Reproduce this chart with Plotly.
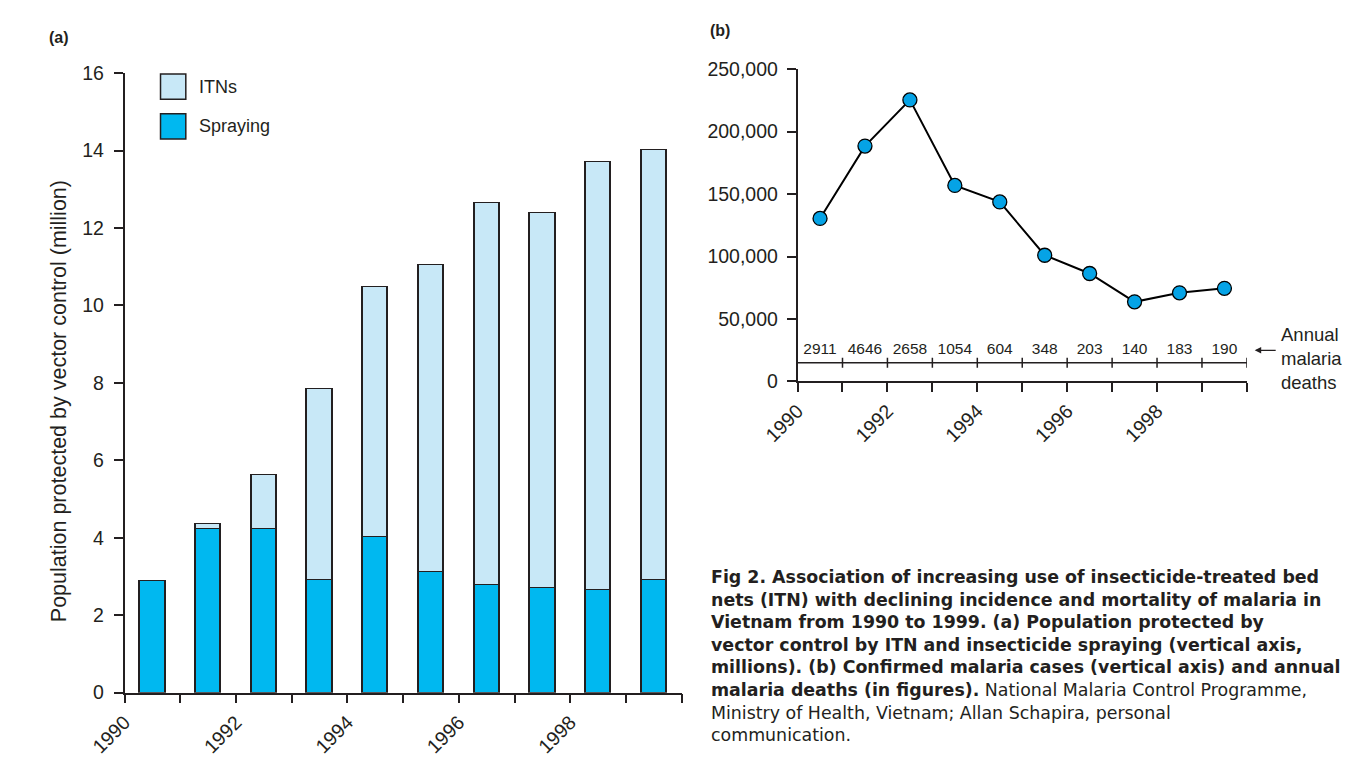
import plotly.graph_objects as go

# ---------------- data ----------------
years = [1990, 1991, 1992, 1993, 1994, 1995, 1996, 1997, 1998, 1999]
spraying = [2.87, 4.23, 4.23, 2.90, 4.02, 3.11, 2.78, 2.69, 2.64, 2.90]
itns = [0.0, 0.13, 1.38, 4.94, 6.45, 7.92, 9.86, 9.70, 11.07, 11.11]
cases = [130500, 188400, 225400, 156900, 143700, 101000, 86400, 63700, 70900, 74500]
deaths = [2911, 4646, 2658, 1054, 604, 348, 203, 140, 183, 190]
tick_years = [1990, 1991, 1992, 1993, 1994, 1995, 1996, 1997, 1998, 1999, 2000]
tick_text = ["1990", "", "1992", "", "1994", "", "1996", "", "1998", "", ""]
y_ticks_a = [0, 2, 4, 6, 8, 10, 12, 14, 16]
y_ticks_b = [0, 50000, 100000, 150000, 200000, 250000]
y_text_b = ["0", "50,000", "100,000", "150,000", "200,000", "250,000"]

caption_lines = [
    "<b>Fig 2. Association of increasing use of insecticide-treated bed</b>",
    "<b>nets (ITN) with declining incidence and mortality of malaria in</b>",
    "<b>Vietnam from 1990 to 1999. (a) Population protected by</b>",
    "<b>vector control by ITN and insecticide spraying (vertical axis,</b>",
    "<b>millions). (b) Confirmed malaria cases (vertical axis) and annual</b>",
    "<b>malaria deaths (in figures).</b> National Malaria Control Programme,",
    "Ministry of Health, Vietnam; Allan Schapira, personal",
    "communication.",
]

# ---------------- styling ----------------
W, H = 1350, 757
FONT = "Liberation Sans"
CAP_FONT = "DejaVu Sans"
INK = "#231f20"
C_SPRAY = "#00b8f0"
C_ITN = "#c8e8f7"
C_MARK = "#05a3e6"


def fx(px):
    return px / W


def fy(py):
    return 1 - py / H


mid = [y + 0.5 for y in years]

fig = go.Figure()

fig.add_trace(go.Bar(x=mid, y=spraying, width=0.455, name="Spraying",
                     marker=dict(color=C_SPRAY, line=dict(color=INK, width=1.5)),
                     xaxis="x", yaxis="y", showlegend=False))
fig.add_trace(go.Bar(x=mid, y=itns, width=0.455, name="ITNs",
                     marker=dict(color=C_ITN, line=dict(color=INK, width=1.5)),
                     xaxis="x", yaxis="y", showlegend=False))

fig.add_trace(go.Scatter(x=mid, y=cases, mode="lines+markers",
                         line=dict(color="black", width=2),
                         marker=dict(size=14, color=C_MARK, line=dict(color="black", width=1.3)),
                         xaxis="x2", yaxis="y2", showlegend=False))

STRIP_Y = 15000
TEXT_Y = 24800
fig.add_trace(go.Scatter(x=mid, y=[TEXT_Y] * len(mid), mode="text",
                         text=[str(d) for d in deaths], textposition="middle center",
                         textfont=dict(family=FONT, size=15.5, color=INK),
                         xaxis="x2", yaxis="y2", showlegend=False, hoverinfo="skip"))

shapes = []
shapes.append(dict(type="line", xref="x2", yref="y2", x0=tick_years[0], x1=tick_years[-1],
                   y0=STRIP_Y, y1=STRIP_Y, line=dict(color=INK, width=1.5)))
for t in tick_years[1:]:
    shapes.append(dict(type="line", xref="x2", yref="y2", x0=t, x1=t,
                       y0=STRIP_Y - 4000, y1=STRIP_Y + 3900, line=dict(color=INK, width=1.5)))

# legend swatches (panel a)
shapes.append(dict(type="rect", xref="paper", yref="paper", x0=fx(127), x1=fx(153),
                   y0=fy(91), y1=fy(65), fillcolor=C_ITN, line=dict(color=INK, width=1.5)))
shapes.append(dict(type="rect", xref="paper", yref="paper", x0=fx(127), x1=fx(153),
                   y0=fy(132), y1=fy(106), fillcolor=C_SPRAY, line=dict(color=INK, width=1.5)))

axis_common = dict(showline=True, linecolor=INK, linewidth=1.5, ticks="outside", ticklen=9,
                   tickwidth=1.5, tickcolor=INK, showgrid=False, zeroline=False,
                   tickfont=dict(family=FONT, size=19.5, color=INK), fixedrange=True)

annotations = [
    dict(text="<b>(a)</b>", x=fx(10), y=fy(27), xref="paper", yref="paper", xanchor="left",
         yanchor="middle", showarrow=False, font=dict(family=FONT, size=16, color=INK)),
    dict(text="<b>(b)</b>", x=fx(690), y=fy(20), xref="paper", yref="paper", xanchor="left",
         yanchor="middle", showarrow=False, font=dict(family=FONT, size=16, color=INK)),
    dict(text="ITNs", x=fx(165), y=fy(78), xref="paper", yref="paper", xanchor="left",
         yanchor="middle", showarrow=False, font=dict(family=FONT, size=18, color=INK)),
    dict(text="Spraying", x=fx(165), y=fy(119), xref="paper", yref="paper", xanchor="left",
         yanchor="middle", showarrow=False, font=dict(family=FONT, size=18, color=INK)),
    dict(text="Population protected by vector control (million)", x=fx(22), y=fy(402),
         xref="paper", yref="paper", xanchor="center", yanchor="middle", textangle=-90,
         showarrow=False, font=dict(family=FONT, size=21.5, color=INK)),
    dict(text=" ", x=fx(1252), y=fy(350), xref="paper", yref="paper", showarrow=True,
         ax=24, ay=0, arrowhead=2, arrowsize=1, arrowwidth=1.3, arrowcolor=INK),
    dict(text="Annual<br>malaria<br>deaths", x=fx(1277), y=fy(358), xref="paper", yref="paper",
         xanchor="left", yanchor="middle", align="left", showarrow=False,
         font=dict(family=FONT, size=18.5, color=INK)),
    dict(text="<br>".join(caption_lines), x=fx(691), y=fy(571), xref="paper", yref="paper",
         xanchor="left", yanchor="top", align="left", showarrow=False,
         font=dict(family=CAP_FONT, size=17.4, color=INK)),
]

fig.update_layout(
    width=W, height=H, margin=dict(l=0, r=0, t=0, b=0),
    paper_bgcolor="white", plot_bgcolor="white", barmode="stack", bargap=0,
    xaxis=dict(domain=[fx(90), fx(663)], range=[1990, 2000], tickvals=tick_years,
               ticktext=tick_text, tickangle=-45, anchor="y", **axis_common),
    yaxis=dict(domain=[fy(703), fy(64)], range=[0, 16], tickvals=y_ticks_a, anchor="x",
               ticklabelstandoff=6, **axis_common),
    xaxis2=dict(domain=[fx(782), fx(1244)], range=[1990, 2000], tickvals=tick_years,
                ticktext=tick_text, tickangle=-45, anchor="y2", **axis_common),
    yaxis2=dict(domain=[fy(382), fy(60)], range=[0, 250000], tickvals=y_ticks_b,
                ticktext=y_text_b, anchor="x2", ticklabelstandoff=5, **axis_common),
    shapes=shapes, annotations=annotations,
)

fig.write_html("out.html")
